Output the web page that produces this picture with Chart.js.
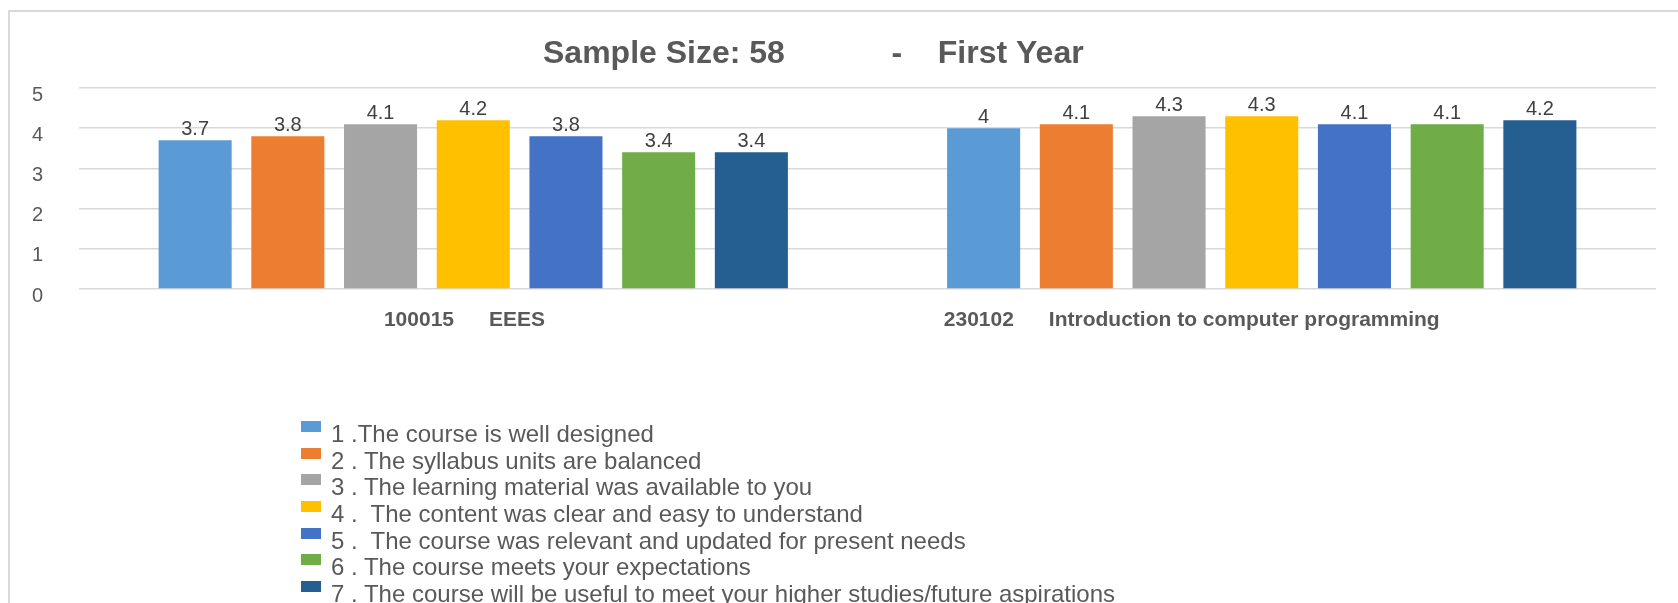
<!DOCTYPE html>
<html>
<head>
<meta charset="utf-8">
<script src="https://cdn.jsdelivr.net/npm/chart.js@4.4.1/dist/chart.umd.min.js"></script>
<style>
  html, body { margin: 0; padding: 0; background: #ffffff; overflow: hidden; }
  #wrap { position: relative; width: 1678px; height: 603px; overflow: hidden; }
  #frame { position: absolute; left: 8px; top: 10px; width: 1700px; height: 700px;
           border-left: 2px solid #d9d9d9; border-top: 2px solid #d9d9d9; box-sizing: border-box; }
  #c { position: absolute; left: 0; top: 0; }
  #legend { position: absolute; left: 301px; top: 421px; font-family: "Liberation Sans", Arial, sans-serif;
            font-size: 24px; color: #595959; }
  .row { position: relative; height: 26.7px; line-height: 26.7px; white-space: pre; padding-left: 30px; }
  .box { position: absolute; left: 0; top: 0; width: 20px; height: 11px; }
</style>
</head>
<body>
<div id="wrap">
  <div id="frame"></div>
  <canvas id="c" width="1678" height="603"></canvas>
  <div id="legend"></div>
</div>
<script>
// ---- data ----
const categories = ["100015      EEES   ", "230102      Introduction to computer programming                        "];
const seriesNames = [
  "1 .The course is well designed",
  "2 . The syllabus units are balanced",
  "3 . The learning material was available to you",
  "4 .  The content was clear and easy to understand",
  "5 .  The course was relevant and updated for present needs",
  "6 . The course meets your expectations",
  "7 . The course will be useful to meet your higher studies/future aspirations"
];
const q1 = [3.7, 4];
const q2 = [3.8, 4.1];
const q3 = [4.1, 4.3];
const q4 = [4.2, 4.3];
const q5 = [3.8, 4.1];
const q6 = [3.4, 4.1];
const q7 = [3.4, 4.2];
const yTicks = [0, 1, 2, 3, 4, 5];
const titleText = "Sample Size: 58            -    First Year";

const seriesValues = [q1, q2, q3, q4, q5, q6, q7];
const colors = ["#5B9BD5", "#ED7D31", "#A5A5A5", "#FFC000", "#4472C4", "#70AD47", "#255E91"];

const FONT = '"Liberation Sans", Arial, sans-serif';
Chart.defaults.font.family = FONT;

const valueLabels = {
  id: 'valueLabels',
  afterDatasetsDraw(chart) {
    const ctx = chart.ctx;
    ctx.save();
    ctx.font = '20px ' + FONT;
    ctx.fillStyle = '#404040';
    ctx.textAlign = 'center';
    ctx.textBaseline = 'alphabetic';
    chart.data.datasets.forEach((ds, i) => {
      const meta = chart.getDatasetMeta(i);
      meta.data.forEach((bar, j) => {
        ctx.fillText(String(ds.data[j]), bar.x, bar.y - 5);
      });
    });
    ctx.restore();
  }
};

const titlePlugin = {
  id: 'customTitle',
  afterDraw(chart) {
    const ctx = chart.ctx;
    ctx.save();
    ctx.font = 'bold 32px ' + FONT;
    ctx.fillStyle = '#595959';
    ctx.textAlign = 'left';
    ctx.textBaseline = 'alphabetic';
    ctx.fillText(titleText, 543, 63);
    ctx.restore();
  }
};

const chart = new Chart(document.getElementById('c'), {
  type: 'bar',
  data: {
    labels: categories,
    datasets: seriesValues.map((vals, i) => ({
      label: seriesNames[i],
      data: vals,
      backgroundColor: colors[i],
      borderWidth: 0,
      categoryPercentage: 0.823,
      barPercentage: 0.788
    }))
  },
  options: {
    responsive: false,
    animation: false,
    layout: { padding: { left: 0, right: 22, top: 88, bottom: 264 } },
    plugins: {
      legend: { display: false },
      title: { display: false },
      tooltip: { enabled: false }
    },
    scales: {
      x: {
        grid: { display: false, drawTicks: false },
        border: { display: false },
        ticks: { color: '#595959', font: { size: 21, weight: 'bold' }, padding: 19, maxRotation: 0, autoSkip: false },
        afterFit(scale) { scale.height = 50; }
      },
      y: {
        min: 0, max: 5,
        afterBuildTicks(scale) { scale.ticks = yTicks.map(v => ({ value: v })); },
        grid: { color: '#d9d9d9', lineWidth: 1.6, drawTicks: false },
        border: { display: false },
        ticks: { color: '#595959', font: { size: 20 }, padding: 36, labelOffset: 7 },
        afterFit(scale) { scale.width = 79; }
      }
    }
  },
  plugins: [valueLabels, titlePlugin]
});

// HTML legend built from the chart's datasets
const legendEl = document.getElementById('legend');
chart.data.datasets.forEach(ds => {
  const row = document.createElement('div');
  row.className = 'row';
  const box = document.createElement('span');
  box.className = 'box';
  box.style.background = ds.backgroundColor;
  row.appendChild(box);
  row.appendChild(document.createTextNode(ds.label));
  legendEl.appendChild(row);
});
</script>
</body>
</html>
